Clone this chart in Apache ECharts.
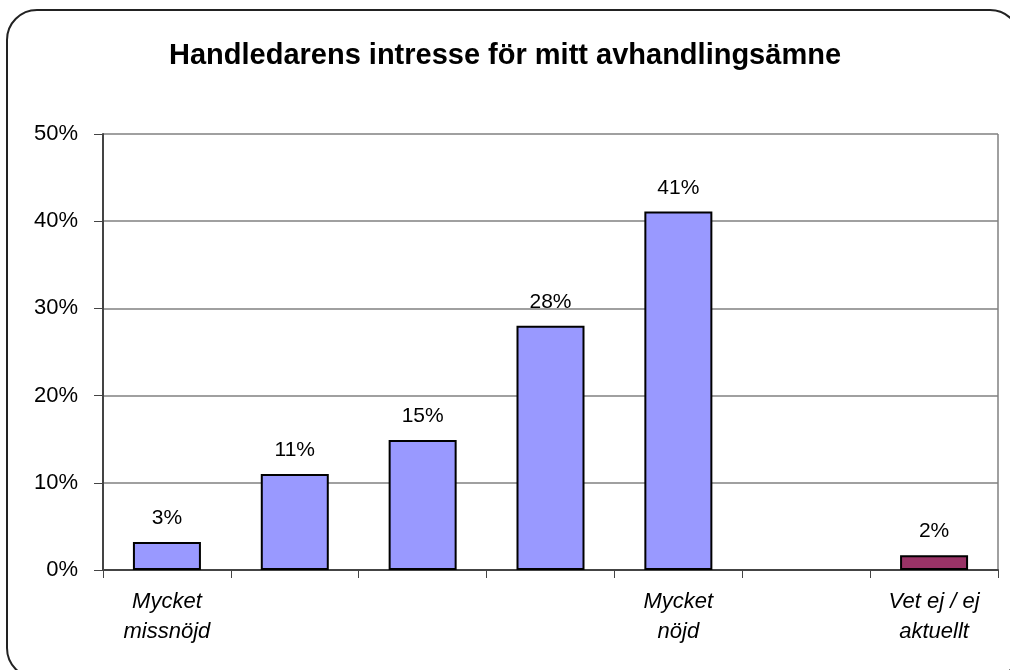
<!DOCTYPE html>
<html lang="sv">
<head>
    <meta charset="UTF-8">
    <title>Handledarens intresse</title>
    <script src="https://cdn.jsdelivr.net/npm/echarts@6.0.0/dist/echarts.min.js"></script>
    <style>
        html, body { margin: 0; padding: 0; background: #fff; }
    </style>
</head>
<body>
    <div id="main" style="width: 1010px;height:670px;"></div>

    <script>
        // data (percent)
        var categories = ['Mycket\nmissnöjd', '', '', '', 'Mycket\nnöjd', '', 'Vet ej / ej\naktuellt'];
        var values = [3.2, 11, 14.9, 28, 41.1, null, 1.7];
        var labels = ['3%', '11%', '15%', '28%', '41%', '', '2%'];
        var barColors = ['#9999ff', '#9999ff', '#9999ff', '#9999ff', '#9999ff', '#9999ff', '#993366'];
        var yTicks = [0, 10, 20, 30, 40, 50];

        var myChart = echarts.init(document.getElementById('main'));
        var option = {
            animation: false,
            textStyle: { fontFamily: 'Liberation Sans, Arial, sans-serif' },
            title: {
                text: 'Handledarens intresse för mitt avhandlingsämne',
                left: 'center',
                top: 36,
                textStyle: { fontSize: 29, fontWeight: 'bold', color: '#000' }
            },
            grid: { left: 103, right: 12, top: 134, bottom: 100 },
            xAxis: {
                type: 'category',
                data: categories,
                axisLine: { lineStyle: { color: '#444', width: 2 } },
                axisTick: { show: true, length: 8, lineStyle: { color: '#444', width: 1 } },
                axisLabel: {
                    interval: 0,
                    margin: 17,
                    fontSize: 22,
                    fontStyle: 'italic',
                    color: '#000',
                    lineHeight: 30
                }
            },
            yAxis: {
                type: 'value',
                min: yTicks[0],
                max: yTicks[yTicks.length - 1],
                interval: 10,
                axisLine: { show: true, lineStyle: { color: '#444', width: 2 } },
                axisTick: { show: true, length: 9, lineStyle: { color: '#444' } },
                axisLabel: {
                    fontSize: 22,
                    color: '#000',
                    margin: 25,
                    formatter: function (v) { return v + '%'; }
                },
                splitLine: { lineStyle: { color: '#808080', width: 1.5 } }
            },
            series: [{
                type: 'bar',
                barWidth: 68,
                data: values.map(function (v, i) {
                    return {
                        value: v,
                        itemStyle: { color: barColors[i] },
                        label: { formatter: labels[i] }
                    };
                }),
                itemStyle: { borderColor: '#000', borderWidth: 2 },
                label: {
                    show: true,
                    position: 'top',
                    distance: 13,
                    fontSize: 21,
                    color: '#000'
                }
            }]
        };
        myChart.setOption(option);

        // outer rounded frame and gray right edge of the plot area
        var rect = myChart.getModel().getComponent('grid').coordinateSystem.getRect();
        myChart.setOption({
            graphic: [{
                type: 'rect',
                shape: { x: 7, y: 10, width: 1013, height: 668, r: 30 },
                style: { fill: 'none', stroke: '#222', lineWidth: 2 },
                z: -1
            }, {
                type: 'line',
                shape: { x1: rect.x + rect.width, y1: rect.y, x2: rect.x + rect.width, y2: rect.y + rect.height },
                style: { stroke: '#808080', lineWidth: 1.5 }
            }]
        });
    </script>
</body>
</html>
